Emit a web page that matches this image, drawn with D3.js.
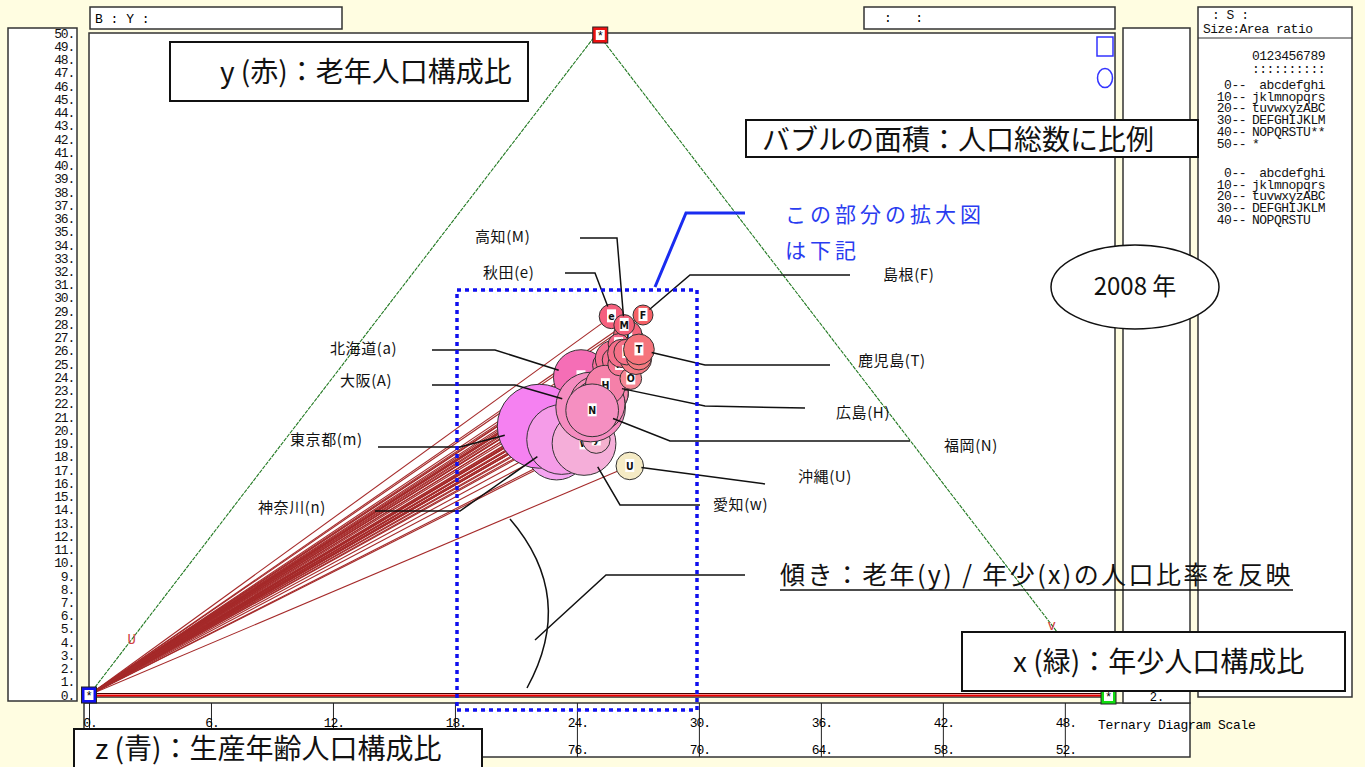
<!DOCTYPE html>
<html>
<head>
<meta charset="utf-8">
<script src="https://cdn.jsdelivr.net/npm/d3@7"></script>
<style>
body { margin:0; background:#fffde1; }
svg { display:block; }
.mono { font-family:"Liberation Mono","DejaVu Sans Mono",monospace; white-space:pre; }
.jp { font-family:"Noto Sans CJK JP","Noto Sans",sans-serif; }
</style>
</head>
<body>
<div id="chart"></div>
<script>
// ---- data (2008, % of population) ----
var codes = ["a","b","c","d","e","f","g","h","i","j","k","l","m","n","o","p","q","r","s","t","u","v","w","x","y","z",
	"A","B","C","D","E","F","G","H","I","J","K","L","M","N","O","P","Q","R","S","T","U"];
var prefNames = ["北海道","青森","岩手","宮城","秋田","山形","福島","茨城","栃木","群馬","埼玉","千葉","東京都","神奈川",
	"新潟","富山","石川","福井","山梨","長野","岐阜","静岡","愛知","三重","滋賀","京都","大阪","兵庫","奈良","和歌山",
	"鳥取","島根","岡山","広島","山口","徳島","香川","愛媛","高知","福岡","佐賀","長崎","熊本","大分","宮崎","鹿児島","沖縄"];
// x : young (0-14)
var youngPct = [12.2,13.0,13.1,13.5,11.4,13.2,13.9,13.8,13.9,14.0,13.7,13.3,12.0,13.6,13.1,13.2,14.0,14.3,13.9,14.0,14.3,14.0,14.85,14.0,15.3,13.3,
	13.8,14.0,13.4,13.2,13.7,12.9,14.1,13.7,12.9,12.8,13.6,13.3,12.35,14.0,14.7,14.0,14.2,13.5,14.3,14.0,17.95];
// y : old (65+)
var oldPct = [24.0,24.9,26.8,21.5,28.6,26.9,24.4,21.0,20.7,22.0,18.6,19.6,20.3,19.3,25.4,25.3,22.8,24.1,23.3,25.6,22.8,22.8,19.0,23.0,19.3,22.3,
	21.75,22.0,22.6,26.3,25.8,28.7,24.2,23.4,27.2,26.5,25.0,25.8,27.95,21.5,23.9,25.6,25.4,25.9,25.5,26.1,17.3];
// total population (thousands)
var population = [5507,1395,1352,2340,1100,1179,2067,2969,2013,2013,7090,6139,12838,8880,2405,1101,1166,816,872,2168,2093,3796,7404,1876,1405,2635,
	8817,5590,1408,1019,595,725,1950,2873,1474,796,1006,1446,777,5056,855,1437,1818,1203,1143,1717,1378];

var leftTicks = d3.range(0, 51);
var bottomTicks = [0, 6, 12, 18, 24, 30, 36, 42, 48];
var bottomTicks2 = [24, 30, 36, 42, 48];   // second row (z = 100 - x); 0..18 sit under the z title
var yearLabel = "2008 年";

var legendHead = ["0123456789", "::::::::::"];
var legendRows1 = [[" 0--", "\u00a0abcdefghi"], ["10--", "jklmnopqrs"], ["20--", "tuvwxyzABC"], ["30--", "DEFGHIJKLM"], ["40--", "NOPQRSTU**"], ["50--", "*"]];
var legendRows2 = [[" 0--", "\u00a0abcdefghi"], ["10--", "jklmnopqrs"], ["20--", "tuvwxyzABC"], ["30--", "DEFGHIJKLM"], ["40--", "NOPQRSTU"]];

// callout layout: label position, line start, elbow
var callouts = [
	{code:"M", text:"高知(M)",   tx:475, ty:242, sx:580, sy:238, ex:617, ey:238},
	{code:"e", text:"秋田(e)",   tx:483, ty:278, sx:565, sy:273, ex:595, ey:273},
	{code:"F", text:"島根(F)",   tx:883, ty:280, sx:850, sy:275, ex:690, ey:275},
	{code:"a", text:"北海道(a)", tx:330, ty:354, sx:432, sy:350, ex:495, ey:350},
	{code:"A", text:"大阪(A)",   tx:340, ty:386, sx:432, sy:385, ex:515, ey:385},
	{code:"m", text:"東京都(m)", tx:290, ty:445, sx:378, sy:447, ex:460, ey:447},
	{code:"n", text:"神奈川(n)", tx:258, ty:513, sx:375, sy:511, ex:460, ey:511},
	{code:"T", text:"鹿児島(T)", tx:858, ty:366, sx:830, sy:365, ex:705, ey:365},
	{code:"H", text:"広島(H)",   tx:836, ty:418, sx:805, sy:408, ex:705, ey:406},
	{code:"N", text:"福岡(N)",   tx:944, ty:451, sx:910, sy:441, ex:670, ey:441},
	{code:"U", text:"沖縄(U)",   tx:798, ty:482, sx:765, sy:484, ex:765, ey:484},
	{code:"w", text:"愛知(w)",   tx:713, ty:510, sx:700, sy:505, ex:620, ey:505}
];

var prefs = codes.map(function(c, i){
	return {code:c, name:prefNames[i], young:youngPct[i], old:oldPct[i], pop:population[i]};
});

var svg = d3.select("#chart").append("svg").attr("width", 1365).attr("height", 767);

var x = d3.scaleLinear().domain([0, 50]).range([89, 1105.5]);
var y = d3.scaleLinear().domain([0, 50]).range([695, 33]);
var rScale = d3.scaleSqrt().domain([0, d3.max(population)]).range([0, 42]);
var gScale = d3.scaleLinear().domain([0.45, 1.06]).range([96, 240]).clamp(true);
var bScale = d3.scaleLinear().domain([58, 68]).range([96, 245]).clamp(true);

// ternary projection: horizontal = young + old/2, vertical = old
function px(d){ return x(d.young + d.old / 2); }
function py(d){ return y(d.old); }
function bubbleColor(d){
	var prod = 100 - d.young - d.old;
	return d3.rgb(245, gScale(d.young / d.old), bScale(prod)) + "";
}

function box(g, x0, y0, w, h, sw){
	return g.append("rect").attr("x", x0).attr("y", y0).attr("width", w).attr("height", h)
		.attr("fill", "#fff").attr("stroke", "#333").attr("stroke-width", sw || 1.5);
}

// ---- panels ----
var panels = svg.append("g");
box(panels, 8, 28, 69, 673);
box(panels, 90, 7, 252, 22);
box(panels, 864, 7, 251, 22);
box(panels, 89, 33, 1026, 664);
box(panels, 84, 703, 1106, 54);
box(panels, 1123, 28, 67, 660);
box(panels, 1123, 688, 67, 15);
box(panels, 1198, 7, 154, 690);
panels.append("line").attr("x1", 1198).attr("x2", 1352).attr("y1", 38).attr("y2", 38).attr("stroke", "#333");

panels.append("text").attr("class", "mono").attr("x", 95).attr("y", 23).attr("font-size", 13).text("B : Y :");
panels.append("text").attr("class", "mono").attr("x", 884).attr("y", 22).attr("font-size", 13).text(":\u00a0\u00a0\u00a0:");
panels.append("text").attr("class", "mono").attr("x", 1157).attr("y", 701).attr("font-size", 12).attr("text-anchor", "middle").text("2.");

// ---- left axis ----
svg.append("clipPath").attr("id", "leftclip").append("rect").attr("x", 9).attr("y", 29).attr("width", 67).attr("height", 671);
var leftAxis = d3.axisLeft(y).tickValues(leftTicks).tickSize(0).tickFormat(function(d){ return d + "."; });
var la = svg.append("g").attr("clip-path", "url(#leftclip)").append("g").attr("transform", "translate(77,0)").call(leftAxis);
la.select(".domain").remove();
la.selectAll("text").attr("class", "mono").attr("font-size", 13).attr("letter-spacing", -1.2).attr("fill", "#111");

// ---- bottom axis ----
var bottomAxis = d3.axisBottom(x).tickValues(bottomTicks).tickSize(54).tickFormat("");
var ba = svg.append("g").attr("transform", "translate(0,703)").call(bottomAxis);
ba.select(".domain").remove();
ba.selectAll("line").attr("stroke", "#222");
var bt = svg.append("g").attr("font-family", "Liberation Mono, monospace").attr("font-size", 13).attr("letter-spacing", -1).attr("text-anchor", "middle");
bt.selectAll("text.r1").data(bottomTicks).join("text").attr("class", "r1")
	.attr("x", function(d){ return x(d) + 1; }).attr("y", 727).text(function(d){ return d + "."; });
bt.selectAll("text.r2").data(bottomTicks2).join("text").attr("class", "r2")
	.attr("x", function(d){ return x(d) + 1; }).attr("y", 754).text(function(d){ return (100 - d) + "."; });
svg.append("text").attr("class", "mono").attr("x", 1098).attr("y", 729).attr("font-size", 13).attr("letter-spacing", -0.3)
	.text("Ternary Diagram Scale");

// ---- legend panel ----
var lg = svg.append("g").attr("class", "mono").attr("font-size", 13).attr("letter-spacing", -0.5).attr("fill", "#111");
lg.append("text").attr("x", 1212).attr("y", 19).text(":\u00a0S\u00a0:");
lg.append("text").attr("x", 1203).attr("y", 33).text("Size:Area ratio");
lg.append("text").attr("x", 1252).attr("y", 60).text(legendHead[0]);
lg.append("text").attr("x", 1252).attr("y", 73).text(legendHead[1]);
legendRows1.forEach(function(r, i){
	lg.append("text").attr("x", 1246).attr("y", 89 + i * 11.7).attr("text-anchor", "end").text(r[0]);
	lg.append("text").attr("x", 1252).attr("y", 89 + i * 11.7).text(r[1]);
});
legendRows2.forEach(function(r, i){
	lg.append("text").attr("x", 1246).attr("y", 177 + i * 11.7).attr("text-anchor", "end").text(r[0]);
	lg.append("text").attr("x", 1252).attr("y", 177 + i * 11.7).text(r[1]);
});

// ---- triangle ----
var tri = svg.append("g").attr("fill", "none").attr("stroke", "#237a23").attr("stroke-width", 1.1).attr("stroke-dasharray", "4,1");
tri.append("line").attr("x1", x(0)).attr("y1", y(0)).attr("x2", x(25)).attr("y2", y(50));
tri.append("line").attr("x1", x(25)).attr("y1", y(50)).attr("x2", x(50)).attr("y2", y(0));
svg.append("text").attr("x", x(4.2 / 2)).attr("y", y(4.2)).attr("dy", "0.35em").attr("text-anchor", "middle")
	.attr("fill", "#d04040").attr("font-size", 14).attr("font-family", "Liberation Mono, monospace").text("U");
svg.append("text").attr("x", x(50 - 5.3 / 2)).attr("y", y(5.3)).attr("dy", "0.35em").attr("text-anchor", "middle")
	.attr("fill", "#d04040").attr("font-size", 14).attr("font-family", "Liberation Mono, monospace").text("v");

// blue square / ellipse top right
svg.append("rect").attr("x", 1097).attr("y", 37).attr("width", 16).attr("height", 19).attr("fill", "none").attr("stroke", "#33f").attr("stroke-width", 1.5);
svg.append("ellipse").attr("cx", 1105).attr("cy", 78).attr("rx", 7.5).attr("ry", 9.5).attr("fill", "none").attr("stroke", "#33f").attr("stroke-width", 1.5);

// base line
svg.append("line").attr("x1", 89).attr("x2", 1115).attr("y1", y(0) - 1.5).attr("y2", y(0) - 1.5).attr("stroke", "#400").attr("stroke-width", 1.2);
svg.append("line").attr("x1", 89).attr("x2", 1115).attr("y1", y(0) + 0.5).attr("y2", y(0) + 0.5).attr("stroke", "#e00").attr("stroke-width", 2);

// ---- slope lines from origin ----
svg.append("g").selectAll("line").data(prefs).join("line")
	.attr("x1", x(0)).attr("y1", y(0))
	.attr("x2", px).attr("y2", py)
	.attr("stroke", "#a52a2a").attr("stroke-width", 1.1);

// ---- bubbles ----
var bub = svg.append("g").selectAll("g").data(prefs).join("g")
	.attr("transform", function(d){ return "translate(" + px(d) + "," + py(d) + ")"; });
bub.append("circle").attr("r", function(d){ return rScale(d.pop); })
	.attr("fill", bubbleColor).attr("stroke", "#333").attr("stroke-width", 1);
bub.append("rect").attr("x", -4.5).attr("y", -7).attr("width", 9).attr("height", 13).attr("fill", "#fff");
bub.append("text").text(function(d){ return d.code; })
	.attr("text-anchor", "middle").attr("dy", "0.35em").attr("font-size", 10.5).attr("font-weight", "bold")
	.attr("font-family", "DejaVu Sans Condensed, DejaVu Sans, sans-serif").attr("fill", "#111");

// ---- vertex markers ----
function marker(cx, cy, color){
	var g = svg.append("g");
	g.append("rect").attr("x", cx - 7.5).attr("y", cy - 8).attr("width", 15).attr("height", 16).attr("fill", color).attr("stroke", "#222").attr("stroke-width", 1);
	g.append("rect").attr("x", cx - 4.5).attr("y", cy - 5).attr("width", 9).attr("height", 10).attr("fill", "#fff");
	g.append("text").attr("x", cx).attr("y", cy).attr("dy", "0.4em").attr("text-anchor", "middle").attr("font-size", 12)
		.attr("font-family", "Liberation Mono, monospace").text("*");
}
marker(x(25) + 3, y(50) + 2, "#ee1111");
marker(x(0), y(0), "#1111ee");
marker(x(50) + 3, y(0) + 1, "#11dd11");

// ---- callouts ----
var byCode = {};
prefs.forEach(function(d){ byCode[d.code] = d; });
var co = svg.append("g");
callouts.forEach(function(c){
	var d = byCode[c.code];
	var cx = px(d), cy = py(d), rr = rScale(d.pop) * 0.85;
	var dx = c.ex - cx, dy = c.ey - cy, len = Math.sqrt(dx * dx + dy * dy);
	var endX = cx + dx / len * rr, endY = cy + dy / len * rr;
	co.append("polyline").attr("points", [c.sx, c.sy, c.ex, c.ey, endX, endY].join(","))
		.attr("fill", "none").attr("stroke", "#111").attr("stroke-width", 1.5);
	co.append("text").attr("class", "jp").attr("x", c.tx).attr("y", c.ty).attr("font-size", 15).attr("letter-spacing", 0.6)
		.attr("fill", "#111").text(c.text);
});

// ---- zoom region note ----
svg.append("rect").attr("x", 457).attr("y", 290).attr("width", 240).attr("height", 420)
	.attr("fill", "none").attr("stroke", "#1010ee").attr("stroke-width", 3.5).attr("stroke-dasharray", "4,4");
svg.append("polyline").attr("points", "745,213 686,213 655,287").attr("fill", "none").attr("stroke", "#1a2cf0").attr("stroke-width", 3);
svg.append("text").attr("class", "jp").attr("x", 785).attr("y", 222).attr("font-size", 21).attr("letter-spacing", 4).attr("fill", "#2a3cf0").text("この部分の拡大図");
svg.append("text").attr("class", "jp").attr("x", 785).attr("y", 258).attr("font-size", 21).attr("letter-spacing", 4).attr("fill", "#2a3cf0").text("は下記");

// ---- slope note ----
svg.append("polyline").attr("points", "745,575 606,575 535,640").attr("fill", "none").attr("stroke", "#111").attr("stroke-width", 1.5);
svg.append("path").attr("d", "M510,519 Q577,597 527,688").attr("fill", "none").attr("stroke", "#111").attr("stroke-width", 1.5);
svg.append("text").attr("class", "jp").attr("x", 780).attr("y", 584).attr("font-size", 25).attr("letter-spacing", 2.4).attr("fill", "#111")
	.text("傾き：老年(y) / 年少(x)の人口比率を反映");
svg.append("line").attr("x1", 780).attr("x2", 1293).attr("y1", 590).attr("y2", 590).attr("stroke", "#111").attr("stroke-width", 1.5);

// ---- title boxes ----
function titleBox(x0, y0, w, h, tx, ty, txt){
	var g = svg.append("g");
	g.append("rect").attr("x", x0).attr("y", y0).attr("width", w).attr("height", h)
		.attr("fill", "#fff").attr("stroke", "#111").attr("stroke-width", 2);
	g.append("text").attr("class", "jp").attr("x", tx).attr("y", ty).attr("font-size", 28).attr("fill", "#111").text(txt);
}
titleBox(170, 42, 358, 59, 220, 82, "y (赤)：老年人口構成比");
titleBox(746, 120, 452, 37, 762, 150, "バブルの面積：人口総数に比例");
titleBox(962, 632, 383, 59, 1013, 672, "x (緑)：年少人口構成比");
titleBox(74, 729, 408, 45, 95, 759, "z (青)：生産年齢人口構成比");

// ---- year ----
svg.append("ellipse").attr("cx", 1135).attr("cy", 287).attr("rx", 84).attr("ry", 42).attr("fill", "#fff").attr("stroke", "#111").attr("stroke-width", 1.5);
svg.append("text").attr("class", "jp").attr("x", 1135).attr("y", 287).attr("dy", "0.35em").attr("text-anchor", "middle")
	.attr("font-size", 24).attr("fill", "#111").text(yearLabel);
</script>
</body>
</html>
